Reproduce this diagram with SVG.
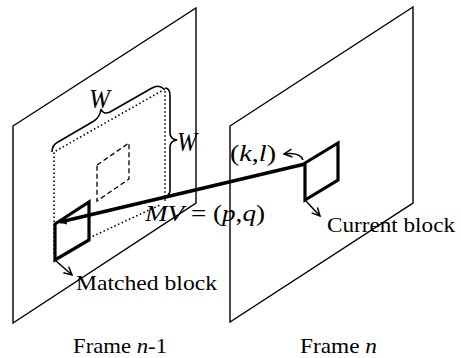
<svg xmlns="http://www.w3.org/2000/svg" width="461" height="358" viewBox="0 0 461 358">
<style>
.frame{fill:none;stroke:#000;stroke-width:1.4;stroke-linejoin:miter}
.block{fill:none;stroke:#000;stroke-width:3.2;stroke-linejoin:miter}
.dot{fill:none;stroke:#000;stroke-width:1.6;stroke-dasharray:1.5 2.5}
.dash{fill:none;stroke:#000;stroke-width:1.3;stroke-dasharray:5 3}
.brace{fill:none;stroke:#000;stroke-width:1.6}
.thin{fill:none;stroke:#000;stroke-width:1.5}
.mv{fill:none;stroke:#000;stroke-width:3.6}
text{font-family:"Liberation Serif","Times New Roman",serif;font-size:22px;fill:#000}
.it{font-style:italic}
.big{font-size:24px}
.w{font-size:27px}
</style>
<defs>
<marker id="open" viewBox="0 0 10 10" refX="9" refY="5" markerWidth="10" markerHeight="10" markerUnits="userSpaceOnUse" orient="auto">
<path d="M1,1 L9,5 L1,9" fill="none" stroke="#000" stroke-width="1.5"/>
</marker>
<marker id="solid" viewBox="0 0 10 10" refX="8" refY="5" markerWidth="9" markerHeight="8" markerUnits="userSpaceOnUse" orient="auto">
<path d="M0,0 L10,5 L0,10 Z" fill="#000"/>
</marker>
</defs>
<g id="frame-n-1">
<path class="frame" d="M13,126 L196,8 L196,203 L13,323 Z"/>
<text x="73" y="353" textLength="94" lengthAdjust="spacingAndGlyphs">Frame <tspan class="it">n</tspan>-1</text>
</g>
<g id="frame-n">
<path class="frame" d="M230,126 L413,7 L413,203 L230,322 Z"/>
<text x="300" y="353" textLength="77" lengthAdjust="spacingAndGlyphs">Frame <tspan class="it">n</tspan></text>
</g>
<g id="search-window">
<path class="dot" d="M54,254 L54,152 L165,89 L165,202"/>
<path class="dot" d="M89,238 L160,205"/>
<path class="dash" d="M97,165 L129,143 L129,179 L97,201 Z"/>
<path class="brace" d="M52,152 Q52,145 58,142 L94,121 Q100,117 101,109 Q103,115 110,112 L152,88 Q159,84 164,89"/>
<text class="it w" x="89" y="108" textLength="21" lengthAdjust="spacingAndGlyphs">W</text>
<path class="brace" d="M165,88 Q170,88 170,96 L170,133 Q170,139 177,140 Q170,141 170,147 L170,190 Q170,196 164,197"/>
<text class="it w" x="177" y="151" textLength="20" lengthAdjust="spacingAndGlyphs">W</text>
</g>
<g id="matched-block">
<path class="block" d="M55,224 L89,202 L89,240 L55,260 Z"/>
<text x="76" y="290" textLength="141" lengthAdjust="spacingAndGlyphs">Matched block</text>
</g>
<g id="current-block">
<path class="block" d="M305,163 L338,143 L338,180 L305,200 Z"/>
<text x="327" y="232" textLength="128" lengthAdjust="spacingAndGlyphs">Current block</text>
</g>
<g id="connectors">
<path class="mv" d="M305,164 L60,222" marker-end="url(#solid)"/>
<path class="thin" d="M55,260 L72,275" marker-end="url(#open)"/>
<path class="thin" d="M305,200 L320,216" marker-end="url(#open)"/>
<path class="thin" d="M303,160 Q300,152 284,154" marker-end="url(#open)"/>
</g>
<g id="labels">
<text class="big" x="230" y="161" textLength="46" lengthAdjust="spacingAndGlyphs">(<tspan class="it">k</tspan>,<tspan class="it">l</tspan>)</text>
<text class="big" x="145" y="221" textLength="120" lengthAdjust="spacingAndGlyphs"><tspan class="it">MV</tspan> = (<tspan class="it">p</tspan>,<tspan class="it">q</tspan>)</text>
</g>
</svg>
